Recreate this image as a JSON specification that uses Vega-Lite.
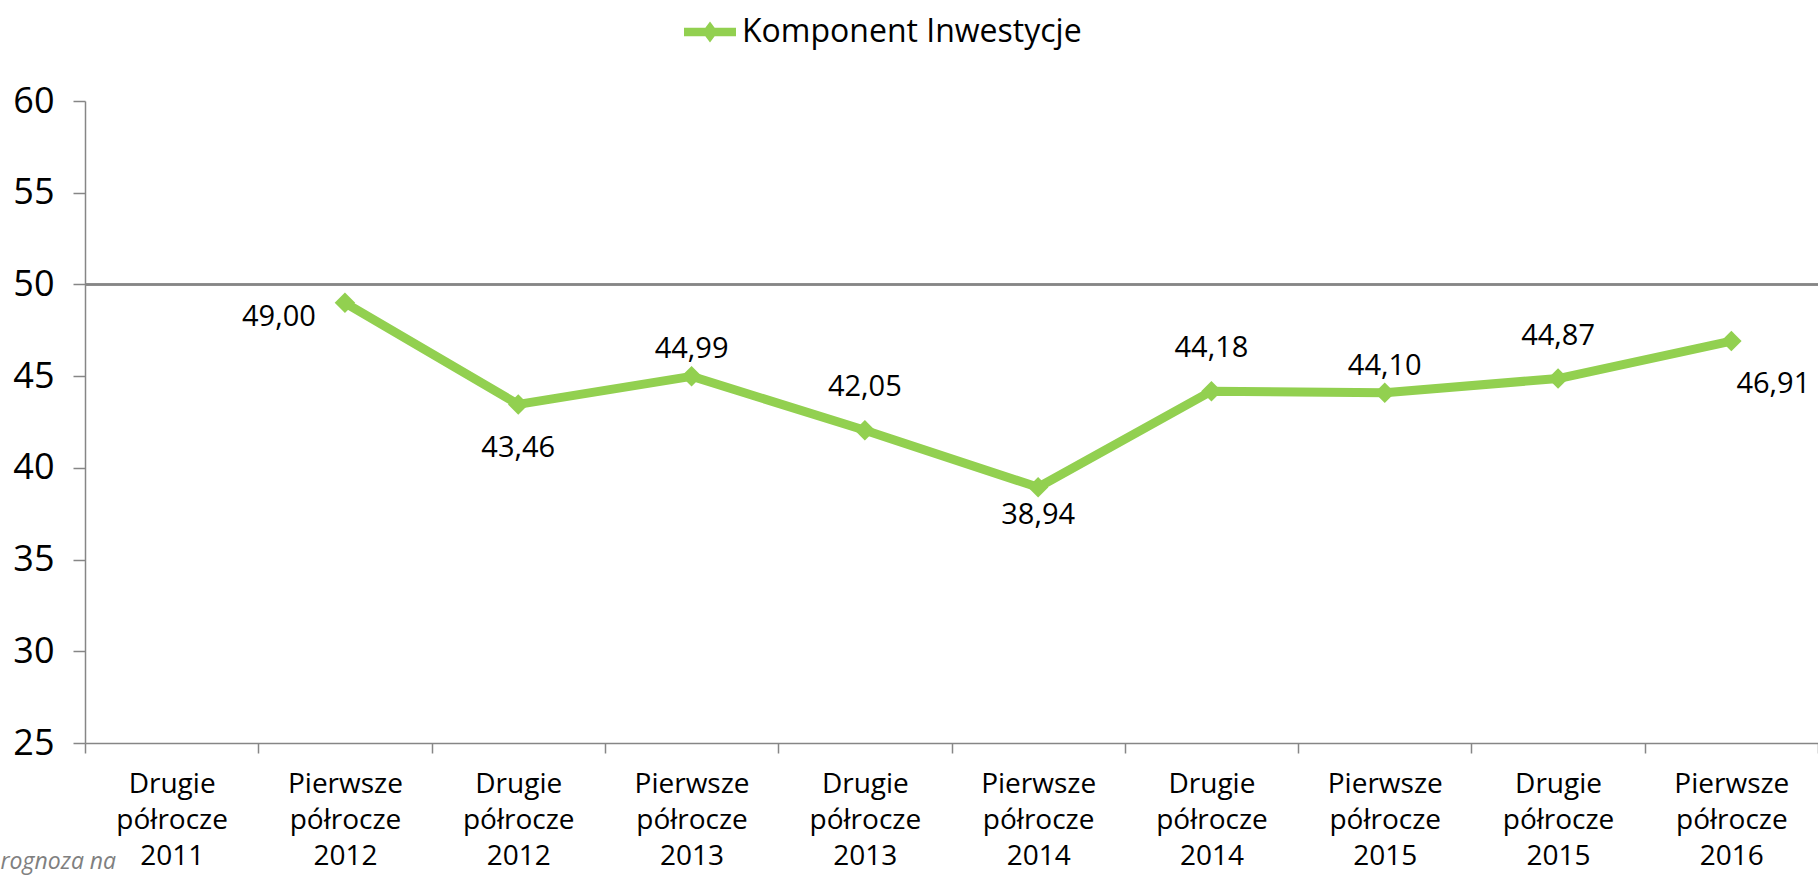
{
  "$schema": "https://vega.github.io/schema/vega-lite/v6.json",
  "autosize": {"type": "none"},
  "width": 1733,
  "height": 642,
  "padding": {"left": 85, "top": 101, "right": 0, "bottom": 133},
  "background": "white",
  "config": {
    "view": {"stroke": null},
    "locale": {"number": {"decimal": ",", "thousands": " ", "grouping": [3], "currency": ["", " zł"]}},
    "font": "Open Sans",
    "axis": {"domainColor": "#868686", "tickColor": "#868686", "domainWidth": 1.5, "tickWidth": 1.5, "labelColor": "#000000", "labelFont": "Open Sans", "grid": false}
  },
  "data": {
    "values": [
      {"okres": "Drugie półrocze 2011", "wartosc": null},
      {"okres": "Pierwsze półrocze 2012", "wartosc": 49.00},
      {"okres": "Drugie półrocze 2012", "wartosc": 43.46},
      {"okres": "Pierwsze półrocze 2013", "wartosc": 44.99},
      {"okres": "Drugie półrocze 2013", "wartosc": 42.05},
      {"okres": "Pierwsze półrocze 2014", "wartosc": 38.94},
      {"okres": "Drugie półrocze 2014", "wartosc": 44.18},
      {"okres": "Pierwsze półrocze 2015", "wartosc": 44.10},
      {"okres": "Drugie półrocze 2015", "wartosc": 44.87},
      {"okres": "Pierwsze półrocze 2016", "wartosc": 46.91}
    ]
  },
  "layer": [
    {
      "mark": {"type": "rule", "color": "#868686", "strokeWidth": 1.5},
      "encoding": {"y": {"datum": 50, "type": "quantitative"}}
    },
    {
      "encoding": {
        "x": {
          "field": "okres",
          "type": "nominal",
          "sort": null,
          "bandPosition": 0.5,
          "scale": {
            "type": "band",
            "paddingInner": 0,
            "paddingOuter": 0,
            "domain": ["Drugie półrocze 2011", "Pierwsze półrocze 2012", "Drugie półrocze 2012", "Pierwsze półrocze 2013", "Drugie półrocze 2013", "Pierwsze półrocze 2014", "Drugie półrocze 2014", "Pierwsze półrocze 2015", "Drugie półrocze 2015", "Pierwsze półrocze 2016"]
          },
          "axis": {
            "title": null,
            "tickBand": "extent",
            "tickSize": 10,
            "labelAngle": 0,
            "labelFontSize": 28,
            "labelLineHeight": 36,
            "labelPadding": 17,
            "labelLimit": 0,
            "labelExpr": "split(datum.label, ' ')"
          }
        },
        "y": {
          "field": "wartosc",
          "type": "quantitative",
          "scale": {"domain": [25, 60], "nice": false, "zero": false},
          "axis": {
            "values": [25, 30, 35, 40, 45, 50, 55, 60],
            "tickSize": 12,
            "labelPadding": 19,
            "labelFontSize": 36,
            "title": "rognoza na",
            "titleAngle": 0,
            "titleX": -85,
            "titleY": 767,
            "titleAlign": "left",
            "titleBaseline": "alphabetic",
            "titleFontStyle": "italic",
            "titleFontWeight": "normal",
            "titleFontSize": 23,
            "titleColor": "#808080",
            "titleFont": "Open Sans"
          }
        }
      },
      "layer": [
        {
          "mark": {"type": "line", "strokeWidth": 9, "strokeJoin": "round", "strokeCap": "round"},
          "encoding": {
            "color": {
              "datum": "Komponent Inwestycje",
              "type": "nominal",
              "scale": {"range": ["#92D050"]},
              "legend": {
                "title": null,
                "orient": "none",
                "legendX": 599,
                "legendY": -95,
                "padding": 0,
                "symbolType": "M-1,-0.16L1,-0.16L1,0.16L-1,0.16Z M0,-0.4L0.3,0L0,0.4L-0.3,0Z",
                "symbolSize": 2704,
                "labelFontSize": 32,
                "labelFont": "Open Sans",
                "labelColor": "#000000",
                "labelOffset": 6,
                "labelLimit": 0,
                "encode": {"symbols": {"update": {"fill": {"value": "#92D050"}, "stroke": {"value": "#92D050"}, "strokeWidth": {"value": 0}, "opacity": {"value": 1}}}}
              }
            }
          }
        },
        {
          "mark": {"type": "point", "shape": "diamond", "filled": true, "size": 420, "color": "#92D050", "opacity": 1}
        },
        {
          "transform": [{"filter": {"field": "okres", "oneOf": ["Drugie półrocze 2013", "Drugie półrocze 2014", "Drugie półrocze 2015"]}}],
          "mark": {"type": "text", "fontSize": 29, "color": "#000000", "dy": -43},
          "encoding": {"text": {"field": "wartosc", "type": "quantitative", "format": ".2f"}}
        },
        {
          "transform": [{"filter": {"field": "okres", "oneOf": ["Pierwsze półrocze 2013", "Pierwsze półrocze 2015"]}}],
          "mark": {"type": "text", "fontSize": 29, "color": "#000000", "dy": -27},
          "encoding": {"text": {"field": "wartosc", "type": "quantitative", "format": ".2f"}}
        },
        {
          "transform": [{"filter": {"field": "okres", "equal": "Drugie półrocze 2012"}}],
          "mark": {"type": "text", "fontSize": 29, "color": "#000000", "dy": 44},
          "encoding": {"text": {"field": "wartosc", "type": "quantitative", "format": ".2f"}}
        },
        {
          "transform": [{"filter": {"field": "okres", "equal": "Pierwsze półrocze 2014"}}],
          "mark": {"type": "text", "fontSize": 29, "color": "#000000", "dy": 28},
          "encoding": {"text": {"field": "wartosc", "type": "quantitative", "format": ".2f"}}
        },
        {
          "transform": [{"filter": {"field": "okres", "equal": "Pierwsze półrocze 2012"}}],
          "mark": {"type": "text", "fontSize": 29, "color": "#000000", "dx": -66, "dy": 14},
          "encoding": {"text": {"field": "wartosc", "type": "quantitative", "format": ".2f"}}
        },
        {
          "transform": [{"filter": {"field": "okres", "equal": "Pierwsze półrocze 2016"}}],
          "mark": {"type": "text", "fontSize": 29, "color": "#000000", "dx": 42, "dy": 43},
          "encoding": {"text": {"field": "wartosc", "type": "quantitative", "format": ".2f"}}
        }
      ]
    }
  ]
}
